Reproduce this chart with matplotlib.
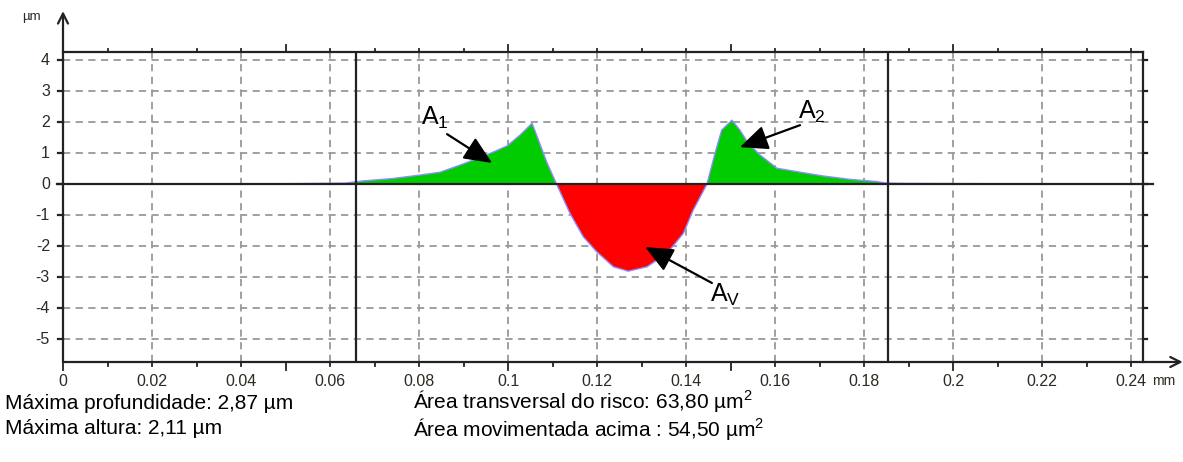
import matplotlib
matplotlib.use("Agg")
import matplotlib.pyplot as plt
import numpy as np

plt.rcParams['font.family'] = ['Liberation Sans', 'DejaVu Sans']
plt.rcParams['mathtext.fontset'] = 'custom'
plt.rcParams['mathtext.rm'] = 'Liberation Sans'
plt.rcParams['mathtext.it'] = 'Liberation Sans'
plt.rcParams['mathtext.bf'] = 'Liberation Sans'
plt.rcParams['axes.unicode_minus'] = False

# ---- data ----
x_profile = [0.0, 0.02, 0.05, 0.0634, 0.0674, 0.0742, 0.0802, 0.0847, 0.0892, 0.0921,
             0.0960, 0.0998, 0.1027, 0.1054, 0.1088, 0.1109, 0.1139, 0.1169, 0.1199,
             0.1237, 0.1270, 0.1312, 0.1357, 0.1394, 0.1416, 0.1447, 0.1465, 0.1480,
             0.1503, 0.1521, 0.1535, 0.1548, 0.1565, 0.1581, 0.1604, 0.1649, 0.1708,
             0.1769, 0.1829, 0.1850, 0.1900, 0.2100, 0.2426]
y_profile = [0.0, 0.0, 0.01, 0.03, 0.10, 0.18, 0.29, 0.38, 0.61, 0.77,
             0.99, 1.23, 1.58, 1.96, 0.67, 0.0, -0.94, -1.70, -2.18,
             -2.67, -2.81, -2.67, -2.24, -1.59, -0.84, 0.0, 0.99, 1.74,
             2.06, 1.74, 1.42, 1.20, 0.95, 0.77, 0.51, 0.40, 0.26,
             0.15, 0.08, 0.03, 0.02, 0.01, 0.0]
x_tick_values = [0, 0.02, 0.04, 0.06, 0.08, 0.10, 0.12, 0.14, 0.16, 0.18, 0.20, 0.22, 0.24]
x_tick_labels = ["0", "0.02", "0.04", "0.06", "0.08", "0.1", "0.12", "0.14", "0.16",
                 "0.18", "0.2", "0.22", "0.24"]
y_tick_values = [4, 3, 2, 1, 0, -1, -2, -3, -4, -5]
y_tick_labels = ["4", "3", "2", "1", "0", "-1", "-2", "-3", "-4", "-5"]
cursor_positions = [0.0658, 0.1854]
area_labels = ["A$_\\mathregular{1}$", "A$_\\mathregular{2}$", "A$_\\mathregular{V}$"]
label_xy = [(0.0835, 2.13), (0.1683, 2.32), (0.1488, -3.58)]
arrow_tail = [(0.0863, 1.61), (0.1656, 1.90), (0.1458, -3.19)]
arrow_head = [(0.0964, 0.68), (0.1521, 1.19), (0.1308, -2.03)]
info_left = ["Máxima profundidade: 2,87 µm", "Máxima altura: 2,11 µm"]
info_right = ["Área transversal do risco: 63,80 µm$^\\mathregular{2}$",
              "Área movimentada acima : 54,50 µm$^\\mathregular{2}$"]

W, H = 1183, 462
fig = plt.figure(figsize=(W / 100, H / 100), dpi=100)
left_px, right_px, top_px, bot_px = 63, 1142.7, 52, 362
ax = fig.add_axes([left_px / W, 1 - bot_px / H, (right_px - left_px) / W, (bot_px - top_px) / H])
xmin, xmax = 0.0, 0.2426
ymin, ymax = -5.74, 4.26
ax.set_xlim(xmin, xmax)
ax.set_ylim(ymin, ymax)

xp = np.array(x_profile)
yp = np.array(y_profile)
ax.fill_between(xp, yp, 0, where=yp >= 0, interpolate=True, color="#00cc00", lw=0, zorder=2)
ax.fill_between(xp, yp, 0, where=yp <= 0, interpolate=True, color="#ff0000", lw=0, zorder=2)
ax.plot(xp, yp, color="#8c8cff", lw=1.0, zorder=2.5)

# grid
for xv in x_tick_values:
    ax.axvline(xv, color="#999999", lw=1.3, ls=(0, (4, 3)), zorder=1)
for yv in y_tick_values:
    if yv != 0:
        ax.axhline(yv, color="#999999", lw=1.3, ls=(0, (4, 3)), zorder=1)

# cursors
for c in cursor_positions:
    ax.axvline(c, color="#222222", lw=1.6, zorder=3)

# zero line
ax.plot([-0.0013, 0.2449], [0, 0], color="#222222", lw=1.6, zorder=3, clip_on=False)

# spines
for s in ["left", "bottom"]:
    ax.spines[s].set_visible(False)
for s in ["top", "right"]:
    ax.spines[s].set_linewidth(1.6)
    ax.spines[s].set_color("#222222")

# axes with arrows
ax.annotate("", xy=(0.2516, ymin), xytext=(0, ymin), xycoords="data",
            arrowprops=dict(arrowstyle="->", lw=1.6, color="#222222", mutation_scale=18,
                            shrinkA=0, shrinkB=0), annotation_clip=False)
ax.annotate("", xy=(0, 5.58), xytext=(0, ymin), xycoords="data",
            arrowprops=dict(arrowstyle="->", lw=1.6, color="#222222", mutation_scale=18,
                            shrinkA=0, shrinkB=0), annotation_clip=False)

# ticks
ax.set_xticks([])
ax.set_yticks([])
minor_x = np.round(np.arange(0, 0.2401, 0.01), 3)
for xv in minor_x:
    major = abs(round(xv / 0.05) * 0.05 - xv) < 1e-6
    lb = 8 if major else 4
    lt = 7 if major else 3
    ax.plot([xv, xv], [ymin, ymin - lb / 31.0], color="#222222", lw=1.3, clip_on=False)
    ax.plot([xv, xv], [ymax, ymax + lt / 31.0], color="#222222", lw=1.3, clip_on=False)
for yv in y_tick_values:
    ax.plot([-5 / 4450, 0], [yv, yv], color="#222222", lw=1.6, clip_on=False)
    ax.plot([xmax, xmax + 4 / 4450], [yv, yv], color="#222222", lw=1.6, clip_on=False)

tick_color = "#2e2a22"
for xv, lab in zip(x_tick_values, x_tick_labels):
    ax.text(xv, ymin - 19 / 31.0, lab, ha="center", va="center", fontsize=11.5, color=tick_color)
ax.text(0.2446, ymin - 19 / 31.0, "mm", ha="left", va="center", fontsize=10, color=tick_color)
for yv, lab in zip(y_tick_values, y_tick_labels):
    ax.text(-13 / 4450, yv, lab, ha="right", va="center", fontsize=11.5, color=tick_color)
ax.text(-22 / 4450, (184 - 17) / 31.0, "µm", ha="right", va="center", fontsize=9.5, color=tick_color)

# annotations
for lab, lxy, t, h in zip(area_labels, label_xy, arrow_tail, arrow_head):
    ax.text(lxy[0], lxy[1], lab, fontsize=18, ha="center", va="center", color="black", zorder=5)
    ax.annotate("", xy=h, xytext=t,
                arrowprops=dict(arrowstyle="-|>,head_length=0.95,head_width=0.42", lw=1.6,
                                color="black", mutation_scale=18, shrinkA=0, shrinkB=0),
                zorder=5)

# info text (one block per column)
fs = 15
fig.text(5 / W, 1 - 416 / H, "\n".join(info_left), fontsize=fs, va="center", ha="left",
         linespacing=1.38)
fig.text(413 / W, 1 - 415 / H, "\n".join(info_right), fontsize=fs, va="center", ha="left",
         linespacing=1.05)

fig.savefig("out.png", dpi=100)
